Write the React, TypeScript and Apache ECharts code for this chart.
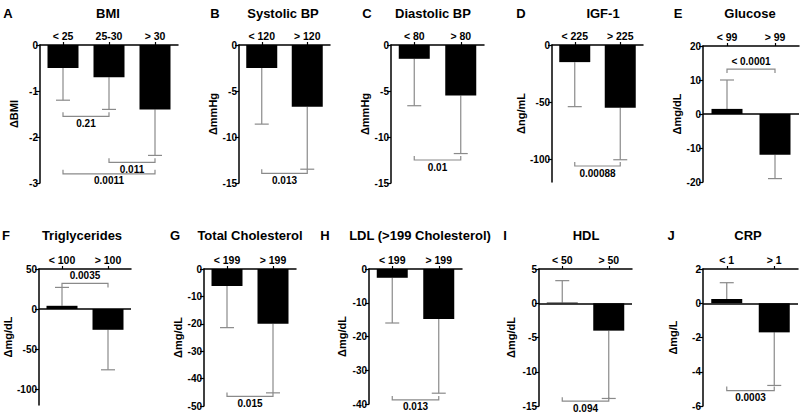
import React, { useEffect, useRef } from "react";
import * as echarts from "echarts";

// ---------- data ----------
const panelLetters = ["A", "B", "C", "D", "E", "F", "G", "H", "I", "J"];
const panelTitles = ["BMI", "Systolic BP", "Diastolic BP", "IGF-1", "Glucose", "Triglycerides", "Total Cholesterol", "LDL (>199 Cholesterol)", "HDL", "CRP"];
const yLabels = ["ΔBMI", "ΔmmHg", "ΔmmHg", "Δng/mL", "Δmg/dL", "Δmg/dL", "Δmg/dL", "Δmg/dL", "Δmg/dL", "Δmg/L"];

const bmiCats = ["< 25", "25-30", "> 30"];
const bmiMeans = [-0.5, -0.7, -1.4];
const bmiErrs = [-1.2, -1.4, -2.4];

const sbpCats = ["< 120", "> 120"];
const sbpMeans = [-2.5, -6.7];
const sbpErrs = [-8.6, -13.5];

const dbpCats = ["< 80", "> 80"];
const dbpMeans = [-1.5, -5.5];
const dbpErrs = [-6.6, -11.8];

const igfCats = ["< 225", "> 225"];
const igfMeans = [-15, -55];
const igfErrs = [-54, -100.5];

const gluCats = ["< 99", "> 99"];
const gluMeans = [1.5, -12];
const gluErrs = [10, -19];

const trgCats = ["< 100", "> 100"];
const trgMeans = [4, -26];
const trgErrs = [27, -76];

const tcCats = ["< 199", "> 199"];
const tcMeans = [-6.2, -20];
const tcErrs = [-21.4, -45.2];

const ldlCats = ["< 199", "> 199"];
const ldlMeans = [-2.6, -14.8];
const ldlErrs = [-16, -36.8];

const hdlCats = ["< 50", "> 50"];
const hdlMeans = [0.1, -4];
const hdlErrs = [3.3, -13.9];

const crpCats = ["< 1", "> 1"];
const crpMeans = [0.25, -1.7];
const crpErrs = [1.2, -4.8];

// brackets: [fromIndex, toIndex, yValue, pLabel]
const bmiBrackets: [number, number, number, string][] = [[0, 1, -1.55, "0.21"], [1, 2, -2.55, "0.011"], [0, 2, -2.8, "0.0011"]];
const sbpBrackets: [number, number, number, string][] = [[0, 1, -13.95, "0.013"]];
const dbpBrackets: [number, number, number, string][] = [[0, 1, -12.5, "0.01"]];
const igfBrackets: [number, number, number, string][] = [[0, 1, -106, "0.00088"]];
const gluBrackets: [number, number, number, string][] = [[0, 1, 13.2, "< 0.0001"]];
const trgBrackets: [number, number, number, string][] = [[0, 1, 32, "0.0035"]];
const tcBrackets: [number, number, number, string][] = [[0, 1, -46.5, "0.015"]];
const ldlBrackets: [number, number, number, string][] = [[0, 1, -38.8, "0.013"]];
const hdlBrackets: [number, number, number, string][] = [[0, 1, -14.3, "0.094"]];
const crpBrackets: [number, number, number, string][] = [[0, 1, -5.1, "0.0003"]];

// axis ranges and tick labels
const yMins = [-3, -15, -15, -120, -20, -120, -50, -40, -15, -6];
const yMaxs = [0, 0, 0, 0, 20, 50, 0, 0, 5, 2];
const bmiTicks = [0, -1, -2, -3];
const sbpTicks = [0, -5, -10, -15];
const dbpTicks = [0, -5, -10, -15];
const igfTicks = [0, -50, -100];
const gluTicks = [20, 10, 0, -10, -20];
const trgTicks = [50, 0, -50, -100];
const tcTicks = [0, -10, -20, -30, -40, -50];
const ldlTicks = [0, -10, -20, -30, -40];
const hdlTicks = [5, 0, -5, -10, -15];
const crpTicks = [2, 0, -2, -4, -6];

const allCats = [bmiCats, sbpCats, dbpCats, igfCats, gluCats, trgCats, tcCats, ldlCats, hdlCats, crpCats];
const allMeans = [bmiMeans, sbpMeans, dbpMeans, igfMeans, gluMeans, trgMeans, tcMeans, ldlMeans, hdlMeans, crpMeans];
const allErrs = [bmiErrs, sbpErrs, dbpErrs, igfErrs, gluErrs, trgErrs, tcErrs, ldlErrs, hdlErrs, crpErrs];
const allBrackets = [bmiBrackets, sbpBrackets, dbpBrackets, igfBrackets, gluBrackets, trgBrackets, tcBrackets, ldlBrackets, hdlBrackets, crpBrackets];
const allTicks = [bmiTicks, sbpTicks, dbpTicks, igfTicks, gluTicks, trgTicks, tcTicks, ldlTicks, hdlTicks, crpTicks];

// ---------- layout ----------
const layouts = [
  { left: 40, top: 45, width: 138, height: 138, titleX: 108, letterX: 8, nameD: 27 },
  { left: 239, top: 45, width: 91, height: 138, titleX: 283, letterX: 215, nameD: 21 },
  { left: 391, top: 45, width: 93, height: 138, titleX: 433, letterX: 367, nameD: 23 },
  { left: 552, top: 45, width: 91, height: 137, titleX: 603, letterX: 521, nameD: 29 },
  { left: 703, top: 46, width: 96, height: 136, titleX: 750, letterX: 678, nameD: 21 },
  { left: 39, top: 269, width: 92, height: 136, titleX: 82, letterX: 6, nameD: 24 },
  { left: 204, top: 269, width: 92, height: 137, titleX: 250, letterX: 175, nameD: 27 },
  { left: 369, top: 269, width: 93, height: 135, titleX: 420, letterX: 325, nameD: 28 },
  { left: 539, top: 269, width: 93, height: 137, titleX: 586, letterX: 505, nameD: 29 },
  { left: 703, top: 269, width: 95, height: 137, titleX: 748, letterX: 671, nameD: 31 },
];

const FONT = "'Liberation Sans', Arial, Helvetica, sans-serif";
const GREY = "#8a8a8a";

function buildOption() {
  const grid: any[] = [];
  const xAxis: any[] = [];
  const yAxis: any[] = [];
  const series: any[] = [];
  const graphic: any[] = [];

  layouts.forEach((L, k) => {
    const row = k < 5 ? 0 : 1;
    const titleY = row === 0 ? 13 : 235;
    grid.push({ left: L.left, top: L.top, width: L.width, height: L.height, containLabel: false });
    xAxis.push({
      type: "category",
      gridIndex: k,
      position: "top",
      data: allCats[k],
      axisLine: { onZero: false, lineStyle: { color: "#000", width: 1.5 } },
      axisTick: { show: true, alignWithLabel: true, length: 3, lineStyle: { color: "#000", width: 1.2 } },
      axisLabel: { color: "#000", fontSize: 10.5, fontWeight: "bold", fontFamily: FONT, margin: 4 },
      splitLine: { show: false },
    });
    yAxis.push({
      type: "value",
      gridIndex: k,
      min: yMins[k],
      max: yMaxs[k],
      name: yLabels[k],
      nameLocation: "middle",
      nameRotate: 90,
      nameGap: L.nameD - 6,
      nameTextStyle: { color: "#000", fontSize: 11, fontWeight: "bold", fontFamily: FONT },
      axisLine: { show: true, onZero: false, lineStyle: { color: "#000", width: 1.5 } },
      axisTick: { show: true, length: 4, lineStyle: { color: "#000", width: 1.2 }, customValues: allTicks[k] },
      axisLabel: { color: "#000", fontSize: 10, fontWeight: "bold", fontFamily: FONT, margin: 2, customValues: allTicks[k] },
      splitLine: { show: false },
    });

    const hasZeroLine = yMaxs[k] > 0;
    series.push({
      type: "bar",
      xAxisIndex: k,
      yAxisIndex: k,
      data: allMeans[k],
      barWidth: 31,
      itemStyle: { color: "#000" },
      z: 3,
      markLine: hasZeroLine
        ? {
            silent: true,
            symbol: "none",
            label: { show: false },
            lineStyle: { color: "#000", width: 1.5, type: "solid" },
            data: [{ yAxis: 0 }],
          }
        : undefined,
    });

    series.push({
      type: "custom",
      xAxisIndex: k,
      yAxisIndex: k,
      z: 2,
      data: allMeans[k].map((m, i) => [i, m, allErrs[k][i]]),
      renderItem: (params: any, api: any) => {
        const i = api.value(0);
        const p1 = api.coord([i, api.value(1)]);
        const p2 = api.coord([i, api.value(2)]);
        const st = { stroke: GREY, lineWidth: 1.2, fill: "none" };
        return {
          type: "group",
          children: [
            { type: "line", shape: { x1: p1[0], y1: p1[1], x2: p2[0], y2: p2[1] }, style: st },
            { type: "line", shape: { x1: p2[0] - 7, y1: p2[1], x2: p2[0] + 7, y2: p2[1] }, style: st },
          ],
        };
      },
    });

    series.push({
      type: "custom",
      xAxisIndex: k,
      yAxisIndex: k,
      z: 4,
      clip: false,
      data: allBrackets[k].map((b) => [b[0], b[1], b[2], b[3]]),
      renderItem: (params: any, api: any) => {
        const a = api.value(0);
        const b = api.value(1);
        const y = api.value(2);
        const label = allBrackets[k][params.dataIndex][3];
        const pa = api.coord([a, y]);
        const pb = api.coord([b, y]);
        const up = y < 0; // ticks point toward bars
        const t = up ? -4 : 4;
        const st = { stroke: GREY, lineWidth: 1.2, fill: "none" };
        const ly = up ? pa[1] + 7 : pa[1] - 8;
        return {
          type: "group",
          children: [
            { type: "polyline", shape: { points: [[pa[0], pa[1] + t], [pa[0], pa[1]], [pb[0], pb[1]], [pb[0], pb[1] + t]] }, style: st },
            {
              type: "text",
              x: (pa[0] + pb[0]) / 2,
              y: ly,
              style: { text: label, fill: "#000", font: `bold 10px ${FONT}`, textAlign: "center", textVerticalAlign: "middle" },
            },
          ],
        };
      },
    });

    graphic.push({
      type: "text",
      x: L.letterX,
      y: titleY,
      style: { text: panelLetters[k], fill: "#000", font: `bold 13px ${FONT}`, textAlign: "center", textVerticalAlign: "middle" },
    });
    graphic.push({
      type: "text",
      x: L.titleX,
      y: titleY,
      style: { text: panelTitles[k], fill: "#000", font: `bold 13px ${FONT}`, textAlign: "center", textVerticalAlign: "middle" },
    });
  });

  return {
    animation: false,
    backgroundColor: "#fff",
    textStyle: { fontFamily: FONT },
    grid,
    xAxis,
    yAxis,
    series,
    graphic,
  };
}

export default function App() {
  const ref = useRef<HTMLDivElement>(null);
  useEffect(() => {
    if (!ref.current) return;
    const chart = echarts.init(ref.current, undefined, { renderer: "svg" });
    chart.setOption(buildOption() as any);
    return () => chart.dispose();
  }, []);
  return (
    <div
      ref={ref}
      style={{ position: "fixed", left: 0, top: 0, width: 800, height: 413, background: "#fff" }}
    />
  );
}
